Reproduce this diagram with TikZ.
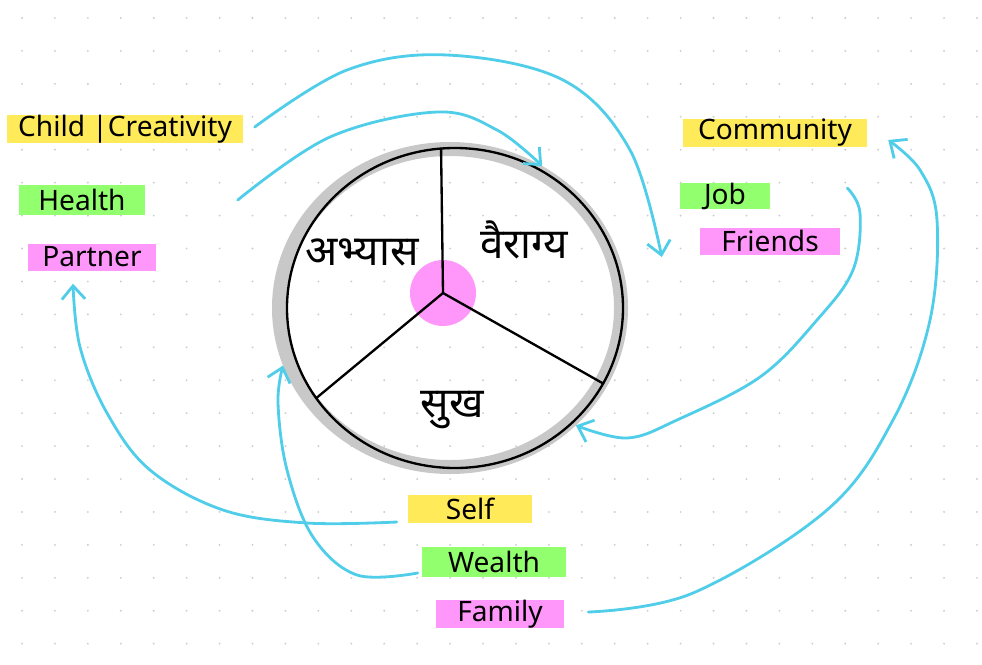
\documentclass[tikz,border=0pt]{standalone}
\usepackage{fontspec}
\setmainfont{Noto Sans}
\newfontfamily\devafont[Script=Devanagari]{Noto Sans}
\usetikzlibrary{arrows.meta,positioning,calc,shapes.geometric}

\definecolor{rimgray}{RGB}{200,200,200}
\definecolor{flowblue}{RGB}{80,205,232}
\definecolor{hlyellow}{RGB}{255,234,90}
\definecolor{hlgreen}{RGB}{146,255,110}
\definecolor{hlpink}{RGB}{255,150,250}
\definecolor{griddot}{RGB}{205,205,205}

\begin{document}
\begin{tikzpicture}[
  x=0.03cm,y=-0.03cm,
  tag/.style={inner sep=0pt,font=\fontsize{24}{27}\selectfont},
  word/.style={inner sep=0pt,font=\devafont\fontsize{36}{42}\selectfont},
  spoke/.style={line width=2pt,line cap=round},
  flow/.style={draw=flowblue,line width=2.4pt,line cap=round,line join=round,
    -{Straight Barb[length=4mm,width=7mm]}}
]
\useasboundingbox (0,0) rectangle (982,664);

% dotted paper
\foreach \i in {0,...,29}
  \foreach \j in {0,...,19}
    \fill[griddot] (22+32.93*\i,18+32.93*\j) circle (0.9pt);

% the wheel
\node[ellipse,draw=rimgray,line width=0.42cm,inner sep=0pt,
  minimum width=10.26cm,minimum height=9.54cm] (rim) at (450,308) {};
\node[ellipse,draw,line width=2pt,inner sep=0pt,outer sep=0pt,
  minimum width=10.08cm,minimum height=9.6cm] (wheel) at (455,308) {};
\node[circle,fill=hlpink,minimum size=1.98cm] (core) at (443,293) {};
\draw[spoke] (core.center) -- (wheel.95);
\draw[spoke] (core.center) -- (wheel.213);
\draw[spoke] (core.center) -- (wheel.-27);

\node[word] (abhyas) at (362,252) {अभ्यास};
\node[word] (vairagya) at (524,240) {वैराग्य};
\node[word] (sukh) at (452,410) {सुख};

% left group
\node[tag,fill=hlyellow,minimum width=7.05cm,minimum height=0.72cm]
  (child) at (125,129) {Child |Creativity};
\node[tag,fill=hlgreen,minimum width=3.75cm,minimum height=0.9cm]
  (health) at (82,200) {Health};
\node[tag,fill=hlpink,minimum width=3.81cm,minimum height=0.81cm]
  (partner) at (92,257) {Partner};

% right group
\node[tag,fill=hlyellow,minimum width=5.52cm,minimum height=0.81cm]
  (community) at (775,133) {Community};
\node[tag,fill=hlgreen,minimum width=2.7cm,minimum height=0.75cm]
  (job) at (725,196) {Job};
\node[tag,fill=hlpink,minimum width=4.2cm,minimum height=0.81cm]
  (friends) at (770,241) {Friends};

% bottom group
\node[tag,fill=hlyellow,minimum width=3.72cm,minimum height=0.84cm]
  (self) at (470,509) {Self};
\node[tag,fill=hlgreen,minimum width=4.32cm,minimum height=0.9cm]
  (wealth) at (494,562) {Wealth};
\node[tag,fill=hlpink,minimum width=3.84cm,minimum height=0.69cm]
  (family) at (500,614) {Family};

% hand-drawn flows
\draw[flow] plot[smooth,tension=0.6] coordinates {($(child.east)+(12,-2)$)
  (347,70) (447,55) (563,80) (630,150) ($(friends.west)+(-38,16)$)};
\draw[flow] plot[smooth,tension=0.6] coordinates {($(health.east)+(93,0)$)
  (330,137) (437,112) (497,130) (rim.57)};
\draw[flow] plot[smooth,tension=0.6] coordinates {($(job.east)+(77,-8)$)
  (860,213) (853,270) (817,320) (760,377) (677,420) (627,438) (rim.-43)};
\draw[flow] plot[smooth,tension=0.6] coordinates {($(family.east)+(24,-2)$)
  (693,593) (827,510) (893,420) (930,320) (937,220) (920,170)
  ($(community.east)+(21,7)$)};
\draw[flow] plot[smooth,tension=0.6] coordinates {($(self.west)+(-11,13)$)
  (307,523) (223,510) (150,470) (107,413) (80,347)
  ($(partner.south)+(-19,13)$)};
\draw[flow] plot[smooth,tension=0.6] coordinates {($(wealth.west)+(-4,11)$)
  (357,575) (313,537) (287,470) (278,403) (rim.199)};
\end{tikzpicture}
\end{document}
